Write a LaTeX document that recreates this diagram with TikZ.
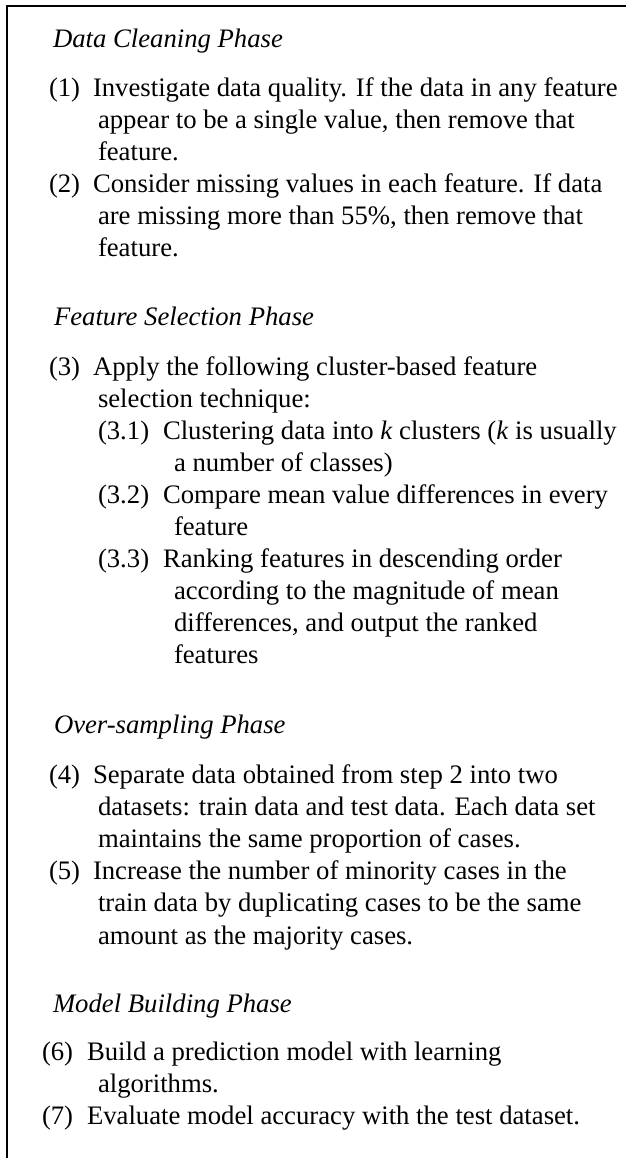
\documentclass[tikz,border=0pt]{standalone}
\usepackage{fontspec}
\setmainfont{Liberation Serif}
\begin{document}
\begin{tikzpicture}[x=1pt,y=-1pt,
  every node/.style={inner sep=0pt,outer sep=0pt,anchor=base west,
    font=\fontsize{26.7}{32}\selectfont},
  phase/.style={font=\fontsize{26.7}{32}\selectfont\itshape},
  frameline/.style={line width=2pt}]
\useasboundingbox (0,0) rectangle (626,1158);
% open frame: top edge and left edge
\coordinate (ftr) at (626,6);
\coordinate (ftl) at (7,6);
\coordinate (fbl) at (7,1158);
\draw[frameline] (ftr) -- (ftl) -- (fbl);

% Data cleaning
\node[phase] (h1) at (53,48) {Data Cleaning Phase};
\node (n1) at (49,96.5) {(1)};
\node (t1a) at (93,96.5) {Investigate data quality. If the data in any feature};
\node (t1b) at (98,128.6) {appear to be a single value, then remove that};
\node (t1c) at (98,160.7) {feature.};
\node (n2) at (49,192.8) {(2)};
\node (t2a) at (93,192.8) {Consider missing values in each feature. If data};
\node (t2b) at (98,224.9) {are missing more than 55\%, then remove that};
\node (t2c) at (98,257) {feature.};

% Feature selection
\node[phase] (h2) at (54,325) {Feature Selection Phase};
\node (n3) at (49,375) {(3)};
\node (t3a) at (93,375) {Apply the following cluster-based feature};
\node (t3b) at (98,407.1) {selection technique:};
\node (n31) at (98,439.2) {(3.1)};
\node (t31a) at (163,439.2) {Clustering data into \textit{k} clusters (\textit{k} is usually};
\node (t31b) at (174,471.3) {a number of classes)};
\node (n32) at (98,503.4) {(3.2)};
\node (t32a) at (163,503.4) {Compare mean value differences in every};
\node (t32b) at (174,535.5) {feature};
\node (n33) at (98,567.6) {(3.3)};
\node (t33a) at (163,567.6) {Ranking features in descending order};
\node (t33b) at (174,599.7) {according to the magnitude of mean};
\node (t33c) at (174,631.8) {differences, and output the ranked};
\node (t33d) at (174,663.9) {features};

% Over-sampling
\node[phase] (h3) at (54,733) {Over-sampling Phase};
\node (n4) at (49,783) {(4)};
\node (t4a) at (93,783) {Separate data obtained from step 2 into two};
\node (t4b) at (98,815.2) {datasets: train data and test data. Each data set};
\node (t4c) at (98,847.4) {maintains the same proportion of cases.};
\node (n5) at (49,879.6) {(5)};
\node (t5a) at (93,879.6) {Increase the number of minority cases in the};
\node (t5b) at (98,911.8) {train data by duplicating cases to be the same};
\node (t5c) at (98,944) {amount as the majority cases.};

% Model building
\node[phase] (h4) at (53,1012) {Model Building Phase};
\node (n6) at (42,1060) {(6)};
\node (t6a) at (87,1060) {Build a prediction model with learning};
\node (t6b) at (98,1092) {algorithms.};
\node (n7) at (42,1124) {(7)};
\node (t7a) at (87,1124) {Evaluate model accuracy with the test dataset.};
\end{tikzpicture}
\end{document}
